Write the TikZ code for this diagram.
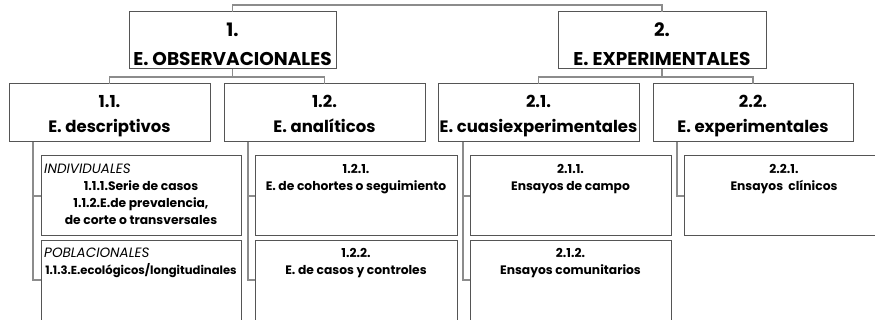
\documentclass[tikz,border=0pt]{standalone}
\usepackage{fontspec}
\setmainfont{Poppins}
\usetikzlibrary{calc}
\definecolor{boxcol}{HTML}{555555}
\definecolor{conncol}{HTML}{8C8C8C}
\tikzset{
 box/.style={draw=boxcol, line width=1pt, anchor=north west, inner sep=0pt, outer sep=0pt},
 conn/.style={draw=conncol, line width=1.3pt},
 hA/.style={font=\fontsize{18.5}{18.5}\selectfont\bfseries, anchor=base, inner sep=0pt},
 hB/.style={font=\fontsize{16.5}{16.5}\selectfont\bfseries, anchor=base, inner sep=0pt},
 lf/.style={font=\fontsize{12.3}{12.3}\selectfont\bfseries, anchor=base, inner sep=0pt},
 lfs/.style={lf, font=\fontsize{11.6}{11.6}\selectfont\bfseries},
 lfi/.style={font=\fontsize{13.5}{13.5}\selectfont\itshape, anchor=base west, inner sep=0pt},
}
\begin{document}
\begin{tikzpicture}[x=1pt,y=-1pt]
\useasboundingbox (0,0) rectangle (875,320);
\clip (0,0) rectangle (875,320);
% level 1
\node[box, minimum width=207pt, minimum height=57pt] (b1) at (129,12) {};
\node[box, minimum width=208pt, minimum height=57pt] (b2) at (558,12) {};
\node[hA] (t1a) at (b1.north |- 0,37) {1.};
\node[hA] (t1b) at (b1.north |- 0,66) {E. OBSERVACIONALES};
\node[hA] (t2a) at (b2.north |- 0,37) {2.};
\node[hA] (t2b) at (b2.north |- 0,66) {E. EXPERIMENTALES};
% level 2
\node[box, minimum width=201pt, minimum height=58pt] (b11) at (9,84) {};
\node[box, minimum width=201pt, minimum height=58pt] (b12) at (224,84) {};
\node[box, minimum width=201pt, minimum height=58pt] (b21) at (438,84) {};
\node[box, minimum width=200pt, minimum height=58pt] (b22) at (653,84) {};
\node[hB] (t11a) at (b11.north |- 0,108) {1.1.};
\node[hB] (t11b) at (b11.north |- 0,133) {E. descriptivos};
\node[hB] (t12a) at (b12.north |- 0,108) {1.2.};
\node[hB] (t12b) at (b12.north |- 0,133) {E. analíticos};
\node[hB] (t21a) at (b21.north |- 0,108) {2.1.};
\node[hB] (t21b) at (b21.north |- 0,133) {E. cuasiexperimentales};
\node[hB] (t22a) at (b22.north |- 0,108) {2.2.};
\node[hB] (t22b) at (b22.north |- 0,133) {E. experimentales};
% leaves
\node[box, minimum width=200pt, minimum height=80pt] (l11a) at (41,156) {};
\node[box, minimum width=200pt, minimum height=90pt] (l11b) at (41,241) {};
\node[box, minimum width=202pt, minimum height=80pt] (l12a) at (255,156) {};
\node[box, minimum width=202pt, minimum height=90pt] (l12b) at (255,241) {};
\node[box, minimum width=201pt, minimum height=80pt] (l21a) at (470,156) {};
\node[box, minimum width=201pt, minimum height=90pt] (l21b) at (470,241) {};
\node[box, minimum width=200pt, minimum height=80pt] (l22a) at (684,156) {};
% leaf texts
\node[lfi] (x1) at (44,174) {INDIVIDUALES};
\node[lf] (x2) at (l11a.north |- 0,191) {1.1.1.Serie de casos};
\node[lf] (x3) at (l11a.north |- 0,208) {1.1.2.E.de prevalencia,};
\node[lf] (x4) at (l11a.north |- 0,225) {de corte o transversales};
\node[lfi] (x5) at (44,258) {POBLACIONALES};
\node[lfs] (x6) at (l11b.north |- 0,275) {1.1.3.E.ecológicos/longitudinales};
\node[lf] (y1) at (l12a.north |- 0,174) {1.2.1.};
\node[lf] (y2) at (l12a.north |- 0,191) {E. de cohortes o seguimiento};
\node[lf] (y3) at (l12b.north |- 0,258) {1.2.2.};
\node[lf] (y4) at (l12b.north |- 0,275) {E. de casos y controles};
\node[lf] (z1) at (l21a.north |- 0,174) {2.1.1.};
\node[lf] (z2) at (l21a.north |- 0,191) {Ensayos de campo};
\node[lf] (z3) at (l21b.north |- 0,258) {2.1.2.};
\node[lf] (z4) at (l21b.north |- 0,275) {Ensayos comunitarios};
\node[lf] (w1) at (l22a.north |- 0,174) {2.2.1.};
\node[lf] (w2) at (l22a.north |- 0,191) {Ensayos\ \ clínicos};
% connectors
\draw[conn] (b1.north) -- (b1.north |- 0,5) -| (b2.north);
\draw[conn] (b1.south) -- (b1.south |- 0,77) -| (b11.north);
\draw[conn] (b1.south |- 0,77) -| (b12.north);
\draw[conn] (b2.south) -- (b2.south |- 0,77) -| (b21.north);
\draw[conn] (b2.south |- 0,77) -| (b22.north);
\coordinate (k11) at ($(l11b.north west)+(0,39)$);
\coordinate (k12) at ($(l12b.north west)+(0,39)$);
\coordinate (k21) at ($(l21b.north west)+(0,39)$);
\draw[conn] ($(b11.south west)+(24,0)$) |- (k11);
\draw[conn] ($(b11.south west)+(24,0)$) |- (l11a.west);
\draw[conn] ($(b12.south west)+(24,0)$) |- (k12);
\draw[conn] ($(b12.south west)+(24,0)$) |- (l12a.west);
\draw[conn] ($(b21.south west)+(25,0)$) |- (k21);
\draw[conn] ($(b21.south west)+(25,0)$) |- (l21a.west);
\draw[conn] ($(b22.south west)+(24,0)$) |- (l22a.west);
\end{tikzpicture}
\end{document}
